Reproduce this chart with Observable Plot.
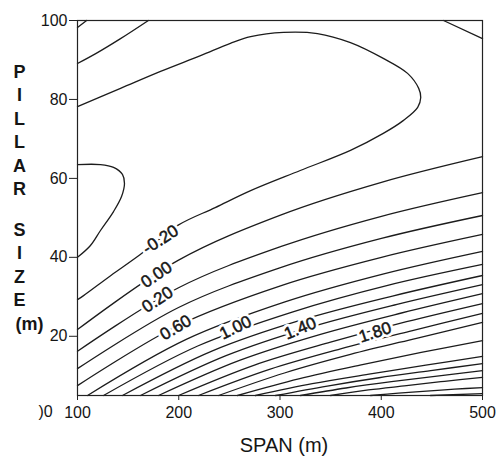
<!DOCTYPE html>
<html>
<head>
<meta charset="utf-8">
<script src="https://cdn.jsdelivr.net/npm/d3@7"></script>
<script src="https://cdn.jsdelivr.net/npm/@observablehq/plot@0.6"></script>
<style>
  html, body { margin: 0; padding: 0; background: #fff; }
  svg { display: block; }
</style>
</head>
<body>
<script>
// ---- axis ticks ----
const spanTicks = [100, 200, 300, 400, 500];
const pillarTicks = [20, 40, 60, 80, 100];

// ---- contour polylines: [span (m), pillar size (m)] ----
const contourLines = [
  {level: "top-left corner", pts: [[100, 98.2], [109, 100]]},
  {level: "top-left", pts: [[100, 89.1], [118, 91.6], [142.5, 95.4], [170, 100]]},
  {level: "top-right corner", pts: [[461.5, 100], [500, 95.4]]},
  {level: "left loop", pts: [[100, 63.5], [122.7, 63.5], [135.6, 62.8], [144.4, 61.0], [146.4, 58.7], [143.5, 55.4], [135.6, 51.6], [122.7, 46.8], [112.8, 43.0], [100, 40.0]]},
  {level: "-0.20", pts: [[100, 78.2], [142.5, 82.8], [182, 87.1], [221.5, 91.1], [251, 94.2], [271, 95.9], [303.5, 97.0], [337, 96.7], [369.6, 94.4], [402, 90.4], [426, 86.6], [437, 82.8], [439, 80.5], [436, 78.0], [422, 74.7], [402, 71.4], [369.6, 67.1], [320, 62.0], [271, 56.9], [236, 52.6], [199, 48.1], [162, 40.7], [133, 35.4], [106, 30.3], [100, 29.3]]},
  {level: "0.00", pts: [[100, 21.7], [199.8, 39.3], [300.5, 50.7], [400.2, 59.0], [500, 65.5]]},
  {level: "0.20", pts: [[100, 16.2], [199.8, 32.3], [300.5, 42.7], [400.2, 50.4], [500, 56.4]]},
  {level: "0.40", pts: [[100, 11.8], [199.8, 27.3], [300.5, 37.4], [400.2, 44.8], [500, 50.6]]},
  {level: "0.60", pts: [[100, 7.5], [199.8, 22.8], [300.5, 32.8], [400.2, 40.0], [500, 45.8]]},
  {level: "0.80", pts: [[109.9, 5], [207.4, 19.2], [304.9, 28.7], [402.5, 35.8], [500, 41.5]]},
  {level: "1.00", pts: [[125.7, 5], [219.3, 17.6], [312.8, 26.2], [406.4, 32.9], [500, 38.2]]},
  {level: "1.20", pts: [[144.4, 5], [233.3, 16.3], [322.2, 24.2], [411.1, 30.2], [500, 35.4]]},
  {level: "1.40", pts: [[162.2, 5], [246.7, 15.1], [331.1, 22.4], [415.6, 28.1], [500, 33.1]]},
  {level: "1.60", pts: [[180, 5], [260, 13.9], [340, 20.5], [420, 25.9], [500, 30.8]]},
  {level: "1.80", pts: [[199.8, 5], [274.8, 12.7], [349.9, 18.5], [425, 23.7], [500, 28.3]]},
  {level: "2.00", pts: [[219.5, 5], [289.6, 11.6], [359.8, 16.8], [429.9, 21.4], [500, 25.8]]},
  {level: "2.20", pts: [[239.3, 5], [304.4, 10.7], [369.6, 15.4], [434.8, 19.5], [500, 23.5]]},
  {level: "2.40", pts: [[258, 5], [318.5, 9.2], [379, 12.7], [439.5, 15.9], [500, 18.9]]},
  {level: "2.60", pts: [[275.8, 5], [331.9, 8.0], [387.9, 10.4], [444, 12.7], [500, 14.9]]},
  {level: "2.80", pts: [[295.6, 5], [346.7, 7.4], [397.8, 9.5], [448.9, 11.3], [500, 13.1]]},
  {level: "3.00", pts: [[320.2, 5], [365.2, 6.9], [410.1, 8.5], [455.1, 9.9], [500, 11.3]]},
  {level: "3.20", pts: [[349.9, 5], [387.4, 6.4], [425, 7.5], [462.5, 8.6], [500, 9.6]]},
  {level: "3.40", pts: [[389.4, 5], [417, 5.6], [444.7, 6.1], [472.3, 6.6], [500, 7.0]]},
  {level: "3.60", pts: [[448.6, 5], [500, 5.5]]}
];

// ---- contour labels ----
const labelText   = ["-0.20", "0.00", "0.20", "0.60", "1.00", "1.40", "1.80"];
const labelSpan   = [182, 178, 179, 197, 256, 320, 394];
const labelPillar = [44.5, 35.6, 29.3, 22.2, 22.2, 22.0, 21.0];
const labelAngle  = [-33, -34, -34, -31, -26, -22, -18];

// ---- build tables for the library ----
const lineRows = contourLines.flatMap((c, i) =>
  c.pts.map(([span, pillar]) => ({span, pillar, id: i})));
const labelRows = labelText.map((t, i) => ({
  text: t, span: labelSpan[i], pillar: labelPillar[i], angle: labelAngle[i]
}));

const font = "'Liberation Sans', Arial, Helvetica, sans-serif";
const ink = "#151515";

const chart = Plot.plot({
  width: 500,
  height: 464,
  marginLeft: 77,
  marginRight: 18,
  marginTop: 20,
  marginBottom: 69,
  x: {domain: [100, 500]},
  y: {domain: [5, 100]},
  style: {fontFamily: font, fontSize: "16px", color: ink, background: "#fff"},
  marks: [
    Plot.line(lineRows, {
      x: "span", y: "pillar", z: "id",
      curve: "catmull-rom", stroke: "#1c1c1c", strokeWidth: 1.3
    }),
    // white gap behind each label
    Plot.text(labelRows, {
      x: "span", y: "pillar", text: "text", rotate: "angle",
      fontSize: 17, fill: "#fff", stroke: "#fff", strokeWidth: 6,
      strokeLinejoin: "round"
    }),
    Plot.text(labelRows, {
      x: "span", y: "pillar", text: "text", rotate: "angle",
      fontSize: 17, fill: ink, stroke: ink, strokeWidth: 0.5
    }),
    Plot.frame({stroke: "#222", strokeWidth: 1.2}),
    Plot.axisX({
      ticks: spanTicks, tickSize: 5, tickPadding: 6, label: null,
      fontSize: 16, tickFormat: d => String(d), stroke: "#222"
    }),
    Plot.axisY({
      ticks: pillarTicks, tickSize: 8, tickPadding: 2, label: null,
      fontSize: 16, tickFormat: d => String(d), stroke: "#222"
    }),
    // axis titles
    Plot.text(["SPAN (m)"], {
      text: d => d, frameAnchor: "bottom", dx: 4, dy: 50,
      lineAnchor: "middle", fontSize: 20, fill: ink
    }),
    Plot.text(["P\nI\nL\nL\nA\nR"], {
      text: d => d, frameAnchor: "top-left", dx: -58, dy: 108.5,
      lineAnchor: "middle", lineHeight: 1.3, fontSize: 18, fontWeight: "bold",
      textAnchor: "middle", fill: ink
    }),
    Plot.text(["S\nI\nZ\nE"], {
      text: d => d, frameAnchor: "top-left", dx: -58, dy: 243,
      lineAnchor: "middle", lineHeight: 1.3, fontSize: 18, fontWeight: "bold",
      textAnchor: "middle", fill: ink
    }),
    Plot.text(["(m)"], {
      text: d => d, frameAnchor: "top-left", dx: -48, dy: 304,
      lineAnchor: "middle", fontSize: 18, fontWeight: "bold",
      textAnchor: "middle", fill: ink
    }),
    Plot.text([")0"], {
      text: d => d, frameAnchor: "bottom-left", dx: -32, dy: 16,
      lineAnchor: "middle", fontSize: 16, fill: ink, textAnchor: "middle"
    })
  ]
});
document.body.appendChild(chart);
</script>
</body>
</html>
